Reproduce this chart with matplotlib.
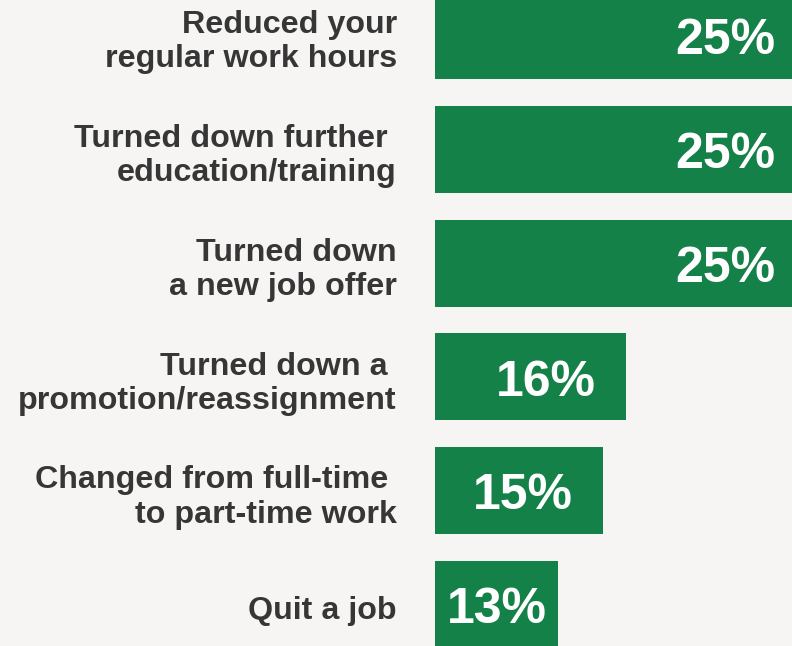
import matplotlib.pyplot as plt
from matplotlib.transforms import blended_transform_factory

labels = ["Reduced your\nregular work hours",
          "Turned down further \neducation/training",
          "Turned down\na new job offer",
          "Turned down a \npromotion/reassignment",
          "Changed from full-time \nto part-time work",
          "Quit a job"]
values = [25, 25, 25, 16, 15, 13]

bg = '#f6f5f3'
green = '#138148'
plt.rcParams['font.family'] = ['Liberation Sans', 'DejaVu Sans']

fig = plt.figure(figsize=(7.92, 6.46), dpi=100, facecolor=bg)
ax = fig.add_axes([435 / 792, 0, 357 / 792, 1])
ax.set_facecolor(bg)

y = list(range(len(values)))
ax.barh(y, values, height=0.765, color=green)

x0, x1 = 7.57, 23.32
ax.set_xlim(x0, x1)
ax.set_ylim(5.365, -0.312)
ax.axis('off')

# category labels to the left of the bars
tr = blended_transform_factory(fig.transFigure, ax.transData)
for i, lab in enumerate(labels):
    ax.text(397 / 792, i + 0.06, lab, transform=tr, ha='right', va='center',
            fontsize=23.2, fontweight='bold', color='#363636',
            linespacing=1.18, clip_on=False)

# value labels inside the bars
txt_w = 4.4
for i, v in enumerate(values):
    right = min(v - 1.35, x1 - 0.75)
    if right - txt_w < x0 + 0.5:
        ax.text(x0 + 0.53, i + 0.05, f"{v}%", ha='left', va='center',
                fontsize=36, fontweight='bold', color='white')
    else:
        ax.text(right, i + 0.05, f"{v}%", ha='right', va='center',
                fontsize=36, fontweight='bold', color='white')

fig.savefig('out.png', dpi=100, facecolor=bg)
